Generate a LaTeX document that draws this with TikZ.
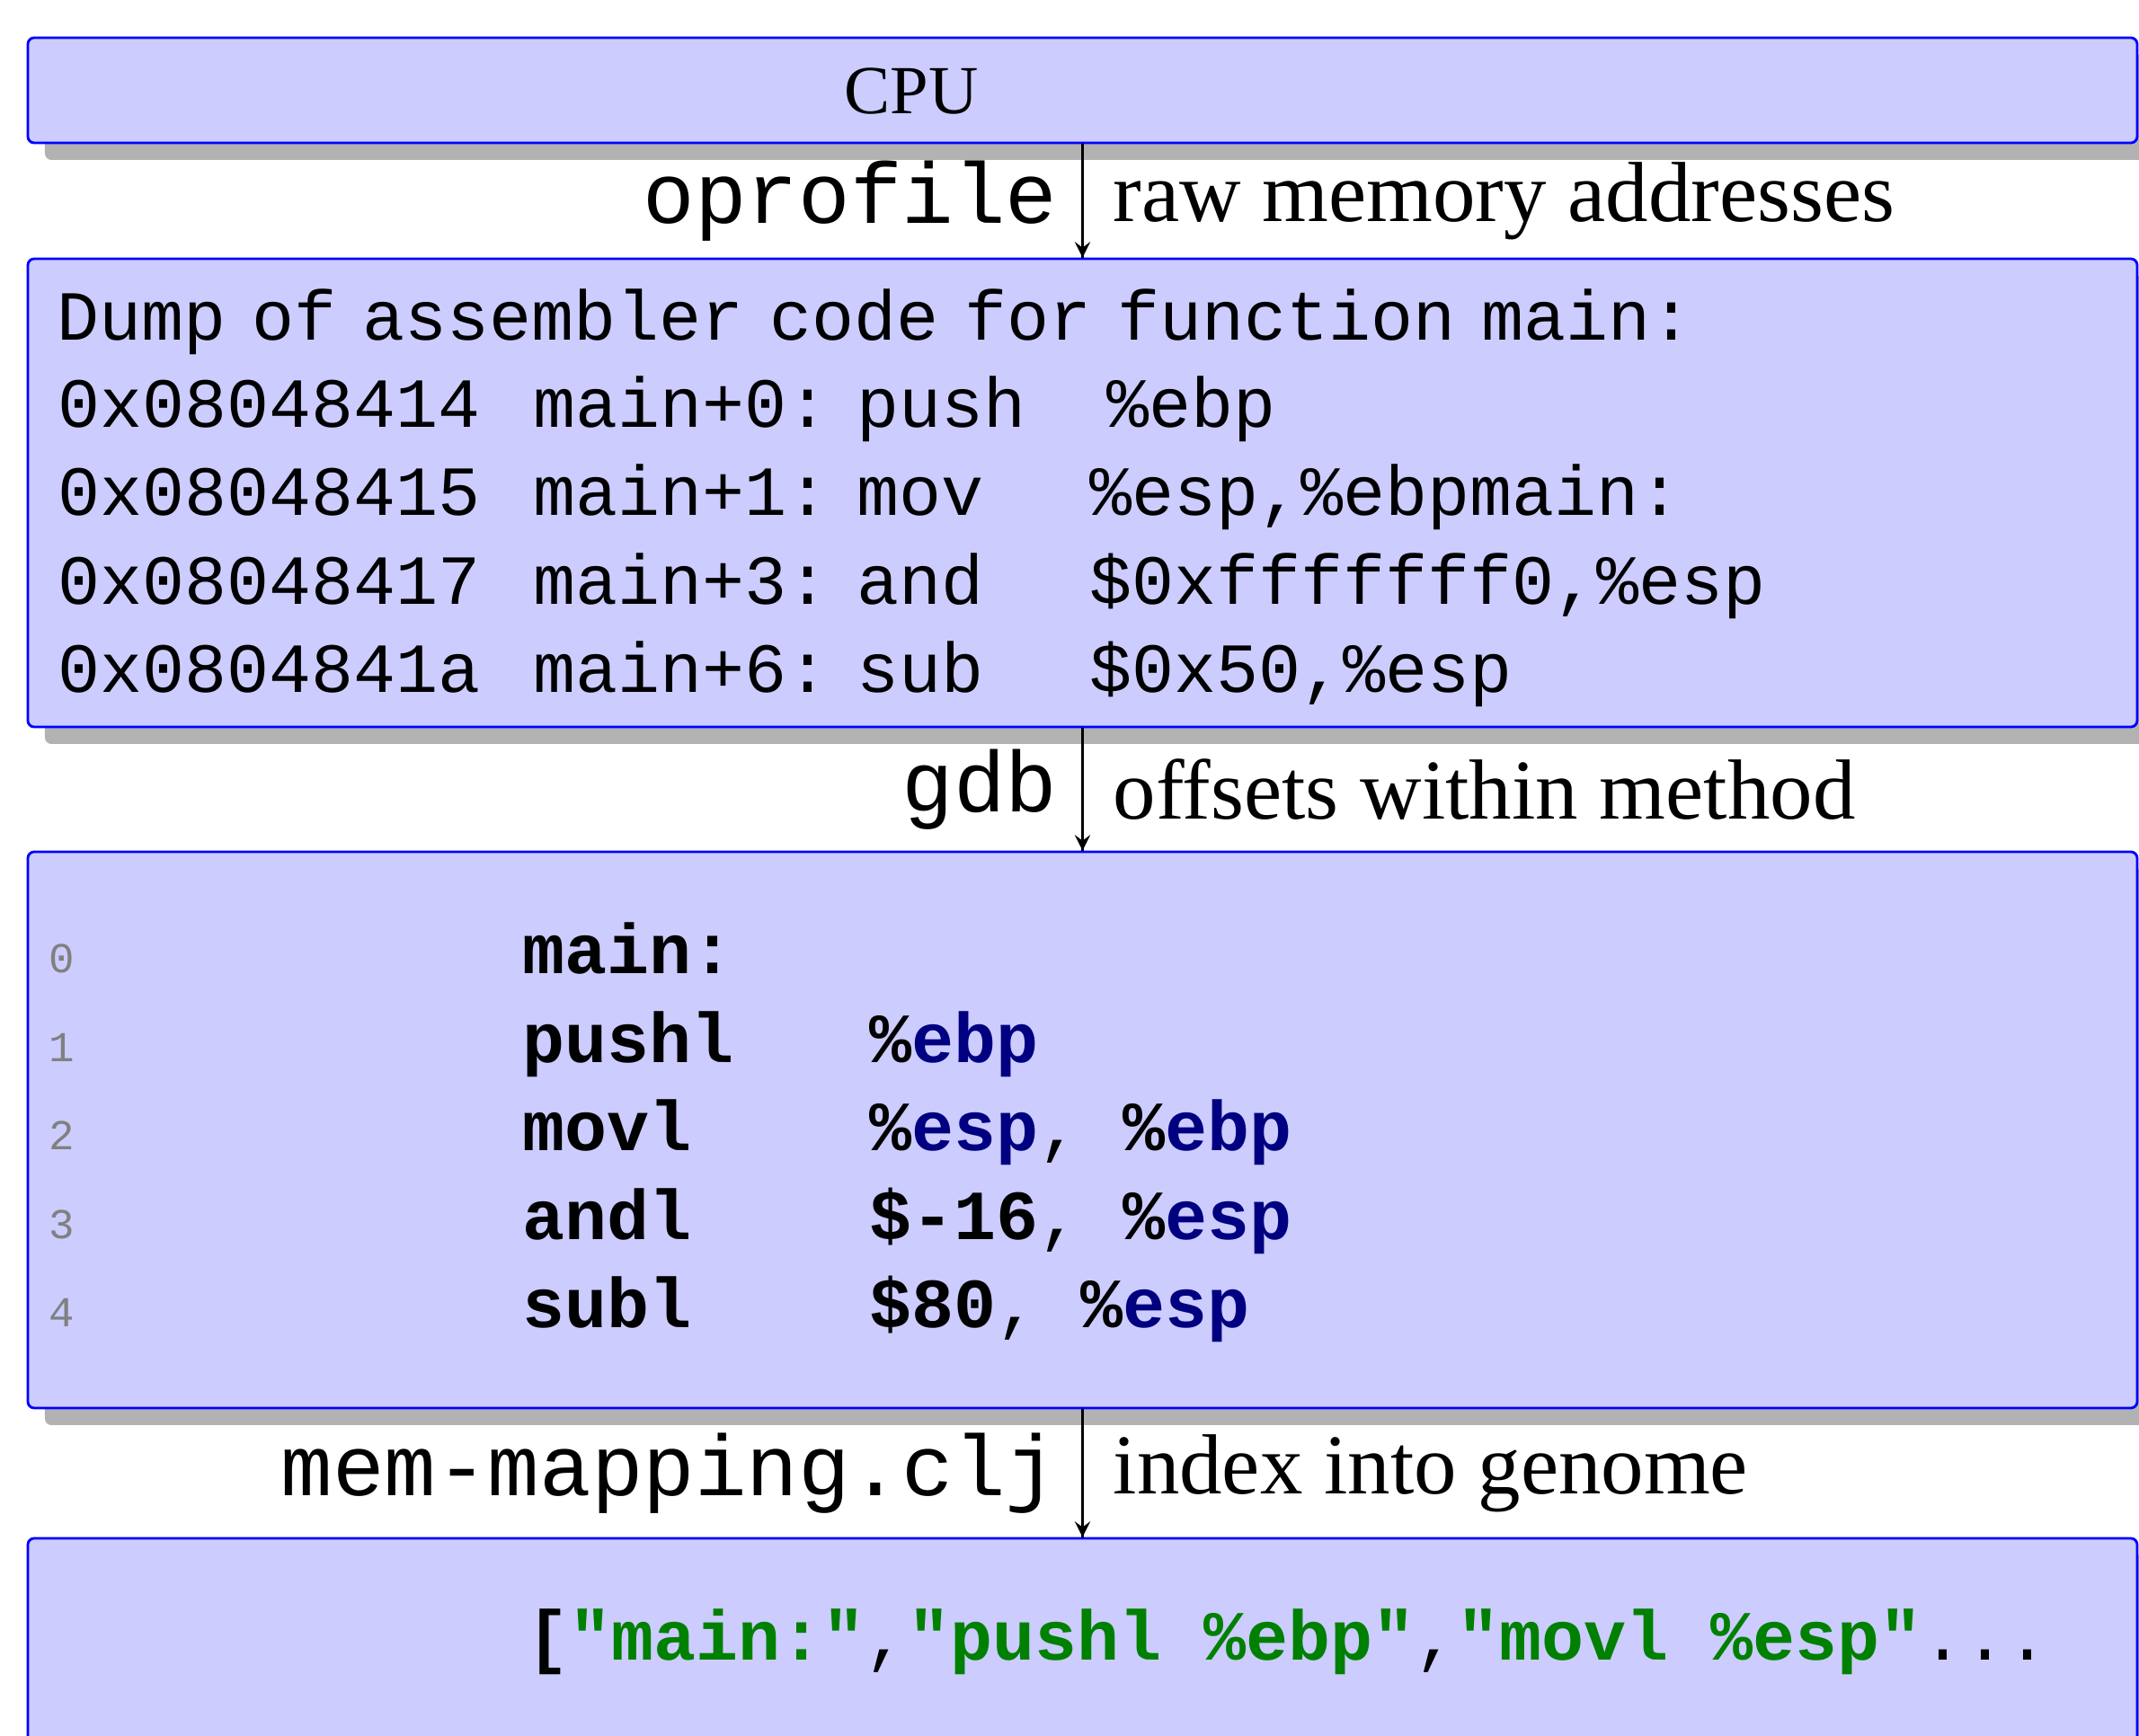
\documentclass[tikz,border=0pt]{standalone}
\usepackage{fontspec}
\setmainfont{Liberation Serif}
\setmonofont{Liberation Mono}
\usetikzlibrary{shadows,
                decorations.markings}
\definecolor{layerfill}{rgb}{0.8,0.8,1}
\definecolor{regblue}{rgb}{0,0,0.5}
\definecolor{strgreen}{rgb}{0,0.5,0}
\tikzset{->/.style = {decoration={markings, mark=at position 1 with {\arrow[scale=1.2]{stealth}}}, postaction={decorate}}}
\tikzset{layer/.style = {draw=blue, fill=layerfill, line width=0.8pt, rounded corners=2pt, inner sep=0, minimum width=23.47cm,
  drop shadow={shadow xshift=0.19cm, shadow yshift=-0.19cm, fill=black!30, opacity=1}}}
\tikzset{code/.style = {anchor=base west, inner sep=0}}
\newcommand{\codefont}{\fontsize{22.3}{26}\selectfont}
\newcommand{\dumpfont}{\ttfamily\codefont\spaceskip=0.29cm\relax}
\newcommand{\tagfont}{\ttfamily\fontsize{27.3}{32}\selectfont}
\newcommand{\notefont}{\fontsize{27}{32}\selectfont}
\newcommand{\numfont}{\ttfamily\fontsize{13.5}{16}\selectfont}
\newcommand{\asmreg}[1]{\textbf{\%\textcolor{regblue}{#1}}}
\newcommand{\asmstr}[1]{\textbf{\textcolor{strgreen}{#1}}}
\newcommand{\dumprow}[4]{\makebox[5.29cm][l]{#1}\makebox[3.60cm][l]{#2}\makebox[2.59cm][l]{#3}#4}
\newcommand{\asmrow}[2]{\makebox[3.86cm][l]{\textbf{#1}}#2}

\begin{document}
\begin{tikzpicture}
      \useasboundingbox (0,0) rectangle (23.8,-19.32);
      % the four layers
      \node [layer, minimum height=1.17cm] (cpu) at (12.045,-1.005) {};
      \node [layer, minimum height=5.21cm] (dump) at (12.045,-5.485) {};
      \node [layer, minimum height=6.19cm] (asm) at (12.045,-12.575) {};
      \node [layer, minimum height=4cm] (genome) at (12.045,-19.12) {};
      \node [anchor=base, font=\fontsize{21.8}{26}\selectfont] (cpuname) at (10.14,-1.27) {CPU};
      % gdb output
      \node [code, font=\dumpfont] (dump0) at (0.63,-3.79) {Dump of assembler code for function main:};
      \node [code, font=\dumpfont] (dump1) at (0.64,-4.76) {\dumprow{0x08048414}{main+0:}{push}{\hspace{0.19cm}\%ebp}};
      \node [code, font=\dumpfont] (dump2) at (0.64,-5.74) {\dumprow{0x08048415}{main+1:}{mov}{\%esp,\%ebpmain:}};
      \node [code, font=\dumpfont] (dump3) at (0.64,-6.73) {\dumprow{0x08048417}{main+3:}{and}{\$0xfffffff0,\%esp}};
      \node [code, font=\dumpfont] (dump4) at (0.64,-7.71) {\dumprow{0x0804841a}{main+6:}{sub}{\$0x50,\%esp}};
      % assembler listing
      \node [code, font=\numfont, text=gray] (num0) at (0.54,-10.83) {0};
      \node [code, font=\numfont, text=gray] (num1) at (0.54,-11.82) {1};
      \node [code, font=\numfont, text=gray] (num2) at (0.54,-12.80) {2};
      \node [code, font=\numfont, text=gray] (num3) at (0.54,-13.79) {3};
      \node [code, font=\numfont, text=gray] (num4) at (0.54,-14.77) {4};
      \node [code, font=\ttfamily\codefont] (ins0) at (5.81,-10.84) {\asmrow{main:}{}};
      \node [code, font=\ttfamily\codefont] (ins1) at (5.81,-11.83) {\asmrow{pushl}{\asmreg{ebp}}};
      \node [code, font=\ttfamily\codefont] (ins2) at (5.81,-12.81) {\asmrow{movl}{\asmreg{esp}, \asmreg{ebp}}};
      \node [code, font=\ttfamily\codefont] (ins3) at (5.81,-13.80) {\asmrow{andl}{\textbf{\$-16}, \asmreg{esp}}};
      \node [code, font=\ttfamily\codefont] (ins4) at (5.81,-14.78) {\asmrow{subl}{\textbf{\$80}, \asmreg{esp}}};
      % genome
      \node [code, font=\ttfamily\codefont] (genes) at (5.86,-18.47) {\textbf{[}\asmstr{"main:"},\asmstr{"pushl \%ebp"},\asmstr{"movl \%esp"}...};
      % steps between layers
      \draw [->, line width=0.8pt] (cpu) -- (dump) node [midway, left=0.15cm, font=\tagfont] (tool1) {oprofile}
            node [midway, right=0.21cm, font=\notefont] (gives1) {raw memory addresses};
      \draw [->, line width=0.8pt] (dump) -- (asm) node [midway, left=0.15cm, font=\tagfont] (tool2) {gdb}
            node [midway, right=0.21cm, font=\notefont] (gives2) {offsets within method};
      \draw [->, line width=0.8pt] (asm) -- (genome) node [midway, left=0.15cm, font=\tagfont] (tool3) {mem-mapping.clj}
            node [midway, right=0.21cm, font=\notefont] (gives3) {index into genome};
    \end{tikzpicture}
\end{document}
